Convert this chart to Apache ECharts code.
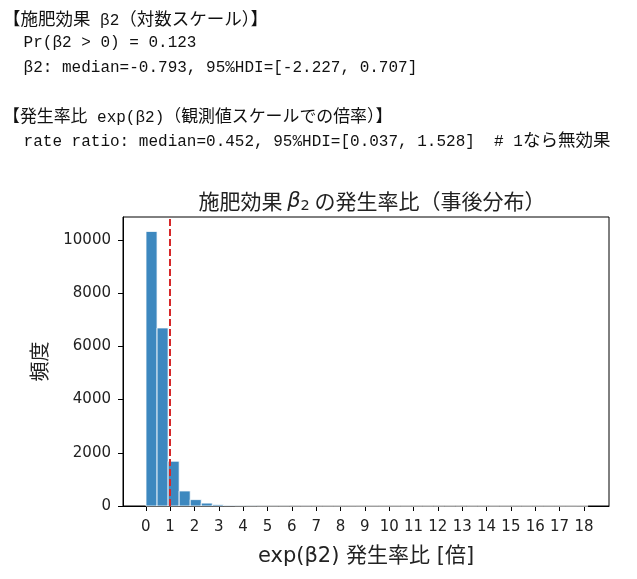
<!DOCTYPE html>
<html>
<head>
<meta charset="utf-8">
<script src="https://cdn.jsdelivr.net/npm/echarts@6/dist/echarts.min.js"></script>
<style>
  html, body { margin: 0; padding: 0; background: #fff; width: 637px; height: 579px; overflow: hidden; }
  .ln { position: absolute; white-space: pre; font-family: "Liberation Mono", monospace; font-size: 16px; line-height: 20px; color: #111; font-kerning: none; }
  .ln .j { font-family: "Noto Sans CJK JP", sans-serif; font-size: 17.5px; }
  #chart { position: absolute; left: 0; top: 0; width: 637px; height: 579px; }
</style>
</head>
<body>
<div id="chart"></div>
<div class="ln" style="top:8px;left:3px"><span class="j">【施肥効果</span> β2<span class="j">（対数スケール）】</span></div>
<div class="ln" style="top:33px;left:14px"> Pr(β2 &gt; 0) = 0.123</div>
<div class="ln" style="top:58px;left:14px"> β2: median=-0.793, 95%HDI=[-2.227, 0.707]</div>
<div class="ln" style="top:105px;left:3px"><span class="j" style="font-size:16.9px">【発生率比</span> exp(β2)<span class="j" style="font-size:16.9px">（観測値スケールでの倍率）】</span></div>
<div class="ln" style="top:129px;left:14px"> rate ratio: median=0.452, 95%HDI=[0.037, 1.528]  # 1<span class="j">なら無効果</span></div>
<script>
// ---- data ----
const binStart = 0.01;
const binWidth = 0.454;
const counts = [10313, 6688, 1682, 565, 240, 110, 50, 22, 12, 8,
                5, 3, 3, 2, 2, 1, 1, 1, 1, 0,
                1, 0, 1, 0, 0, 0, 0, 1, 0, 0,
                0, 0, 0, 0, 0, 0, 0, 0, 0, 1];
const refValue = 1;
const xTicks = [0,1,2,3,4,5,6,7,8,9,10,11,12,13,14,15,16,17,18];
const yTicks = [0, 2000, 4000, 6000, 8000, 10000];
const xName = 'exp(β2) 発生率比 [倍]';
const yName = '頻度';

const histData = counts.map((c, i) => [binStart + i * binWidth, binStart + (i + 1) * binWidth, c]);

const chart = echarts.init(document.getElementById('chart'), null, { renderer: 'canvas' });
const labelFont = 'DejaVu Sans, "Noto Sans CJK JP", sans-serif';
const cjkFont = '"Noto Sans CJK JP", sans-serif';
chart.setOption({
  animation: false,
  title: {
    text: '{a|施肥効果 }{b|β}{c|2}{a| の発生率比（事後分布）}',
    left: 367, top: 184, textAlign: 'center',
    textStyle: {
      rich: {
        a: { fontFamily: cjkFont, fontSize: 21, fontWeight: 'normal', color: '#222' },
        b: { fontFamily: 'DejaVu Sans', fontStyle: 'italic', fontWeight: 'normal', fontSize: 21, color: '#222' },
        c: { fontFamily: 'DejaVu Sans', fontWeight: 'normal', fontSize: 14.5, color: '#222', padding: [10, 0, 0, 0] }
      }
    }
  },
  grid: { left: 123, right: 28, top: 217, bottom: 73, show: true, borderColor: '#000', borderWidth: 1, backgroundColor: 'transparent' },
  xAxis: {
    type: 'value', min: -0.935, max: 19.03,
    axisLine: { show: true, onZero: false, lineStyle: { color: '#000', width: 1 } },
    axisTick: { show: true, customValues: xTicks, length: 5, lineStyle: { color: '#000' } },
    axisLabel: { customValues: xTicks, fontSize: 15, color: '#222', margin: 14, fontFamily: labelFont, formatter: v => String(v) },
    splitLine: { show: false },
    name: xName, nameLocation: 'middle', nameGap: 40,
    nameTextStyle: { fontSize: 21, color: '#222', fontFamily: labelFont }
  },
  yAxis: {
    type: 'value', min: 0, max: 10855,
    axisLine: { show: true, onZero: false, lineStyle: { color: '#000', width: 1 } },
    axisTick: { show: true, customValues: yTicks, length: 5, lineStyle: { color: '#000' } },
    axisLabel: { customValues: yTicks, fontSize: 15, color: '#222', margin: 12, fontFamily: labelFont, formatter: v => String(v) },
    splitLine: { show: false },
    name: yName, nameLocation: 'middle', nameGap: 74, nameRotate: 90,
    nameTextStyle: { fontSize: 20, color: '#222', fontFamily: cjkFont }
  },
  series: [{
    type: 'custom',
    data: histData,
    encode: { x: [0, 1], y: 2 },
    renderItem: function (params, api) {
      const p0 = api.coord([api.value(0), api.value(2)]);
      const p1 = api.coord([api.value(1), 0]);
      return {
        type: 'rect',
        shape: { x: p0[0], y: p0[1], width: p1[0] - p0[0], height: p1[1] - p0[1] },
        style: { fill: '#3d88bf', stroke: '#ffffff', lineWidth: 0.8 }
      };
    },
    markLine: {
      silent: true, symbol: 'none', label: { show: false },
      lineStyle: { color: '#d62728', type: [7, 3], width: 2 },
      data: [{ xAxis: refValue }]
    },
    z: 2
  }]
});
</script>
</body>
</html>
